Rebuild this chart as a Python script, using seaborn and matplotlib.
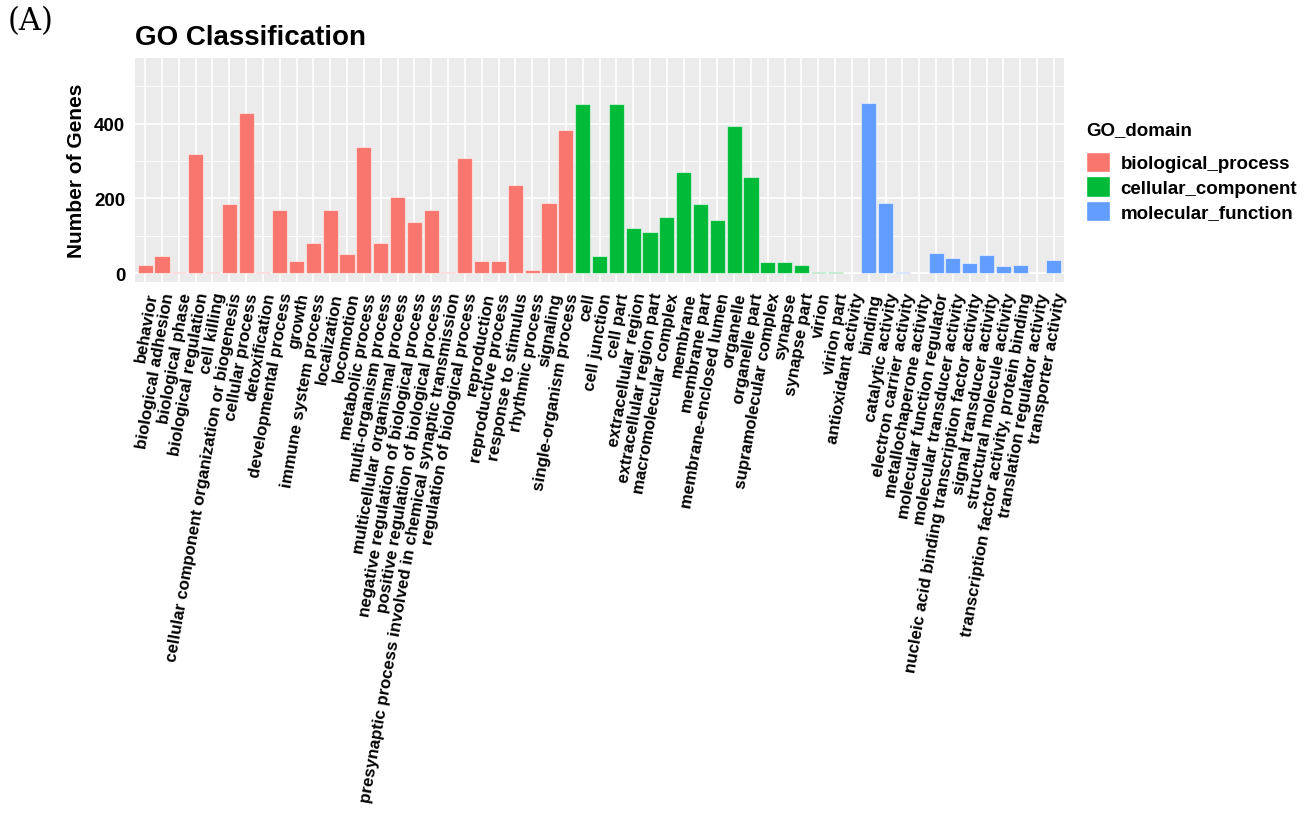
import pandas as pd
import numpy as np
import matplotlib
matplotlib.use('Agg')
import matplotlib.pyplot as plt
import matplotlib.patches as mpatches
from matplotlib.ticker import MultipleLocator
import seaborn as sns

# GO terms per domain, counts
bp_terms = ['behavior', 'biological adhesion', 'biological phase', 'biological regulation',
            'cell killing', 'cellular component organization or biogenesis', 'cellular process',
            'detoxification', 'developmental process', 'growth', 'immune system process',
            'localization', 'locomotion', 'metabolic process', 'multi-organism process',
            'multicellular organismal process', 'negative regulation of biological process',
            'positive regulation of biological process',
            'presynaptic process involved in chemical synaptic transmission',
            'regulation of biological process', 'reproduction', 'reproductive process',
            'response to stimulus', 'rhythmic process', 'signaling', 'single-organism process']
bp_counts = [21, 45, 3, 320, 2, 185, 429, 2, 170, 31, 80, 170, 52, 337, 80,
             205, 136, 168, 2, 307, 33, 33, 235, 8, 187, 382]

cc_terms = ['cell', 'cell junction', 'cell part', 'extracellular region',
            'extracellular region part', 'macromolecular complex', 'membrane', 'membrane part',
            'membrane-enclosed lumen', 'organelle', 'organelle part', 'supramolecular complex',
            'synapse', 'synapse part', 'virion', 'virion part']
cc_counts = [453, 47, 453, 121, 111, 151, 271, 185, 142, 394, 256, 29, 29, 21, 2, 2]

mf_terms = ['antioxidant activity', 'binding', 'catalytic activity', 'electron carrier activity',
            'metallochaperone activity', 'molecular function regulator',
            'molecular transducer activity',
            'nucleic acid binding transcription factor activity', 'signal transducer activity',
            'structural molecule activity', 'transcription factor activity, protein binding',
            'translation regulator activity', 'transporter activity']
mf_counts = [1, 456, 187, 2, 1, 53, 41, 28, 48, 19, 21, 1, 36]

domains = ['biological_process', 'cellular_component', 'molecular_function']
palette = ['#F8766D', '#00BA38', '#619CFF']

df = pd.DataFrame({
    'term': bp_terms + cc_terms + mf_terms,
    'count': bp_counts + cc_counts + mf_counts,
    'GO_domain': [domains[0]] * len(bp_terms) + [domains[1]] * len(cc_terms) + [domains[2]] * len(mf_terms),
})

sns.set_style('darkgrid', {'axes.facecolor': '#EBEBEB', 'grid.color': 'white'})
plt.rcParams['font.family'] = ['Liberation Sans', 'DejaVu Sans']
plt.rcParams['text.color'] = 'black'

fig = plt.figure(figsize=(13.16, 8.29), dpi=100)
ax = fig.add_axes([0.1026, 0.6586, 0.7059, 0.2702])

sns.barplot(data=df, x='term', y='count', hue='GO_domain', hue_order=domains,
            palette=palette, saturation=1, dodge=False, width=0.9, order=df['term'],
            edgecolor=(1, 1, 1, 0.55), linewidth=0.8, legend=False, ax=ax)

ax.set_xlim(-0.6, len(df) - 0.4)
ax.set_ylim(-24, 576)
ax.yaxis.set_major_locator(MultipleLocator(200))
ax.yaxis.set_minor_locator(MultipleLocator(100))
ax.grid(which='major', color='white', linewidth=1.2)
ax.grid(which='minor', axis='y', color='white', linewidth=0.6)
ax.set_axisbelow(True)
for s in ax.spines.values():
    s.set_visible(False)

ax.tick_params(axis='both', which='major', length=3.5, width=0.9, color='#333333',
               labelsize=13.5, labelcolor='black')
ax.tick_params(axis='y', which='minor', length=0)
ax.tick_params(axis='x', labelsize=12.2, pad=3)
# ggplot style: angle 80, hjust = 1, vjust = 1
plt.setp(ax.get_xticklabels(), rotation=80, ha='right', va='top',
         rotation_mode='anchor', fontweight='bold')
plt.setp(ax.get_yticklabels(), fontweight='bold')

ax.set_xlabel('')
ax.set_ylabel('Number of Genes', fontsize=15, fontweight='bold', labelpad=6, color='black')

fig.text(0.1026, 0.938, 'GO Classification', fontsize=20, fontweight='bold', ha='left', va='bottom')
fig.text(0.006, 0.955, '(A)', fontsize=22, family='DejaVu Serif', ha='left', va='bottom')

handles = [mpatches.Patch(facecolor=c, edgecolor='white', label=d) for d, c in zip(domains, palette)]
leg = fig.legend(handles=handles, title='GO_domain', loc='upper left',
                 bbox_to_anchor=(0.8195, 0.862), frameon=False,
                 prop={'size': 13.5, 'weight': 'bold'}, handlelength=1.3, handleheight=1.3,
                 handletextpad=0.55, labelspacing=0.22, borderaxespad=0)
leg.get_title().set_fontsize(13.5)
leg.get_title().set_fontweight('bold')
leg._legend_box.align = 'left'
leg._legend_box.sep = 10

plt.savefig('out.png', dpi=100)
